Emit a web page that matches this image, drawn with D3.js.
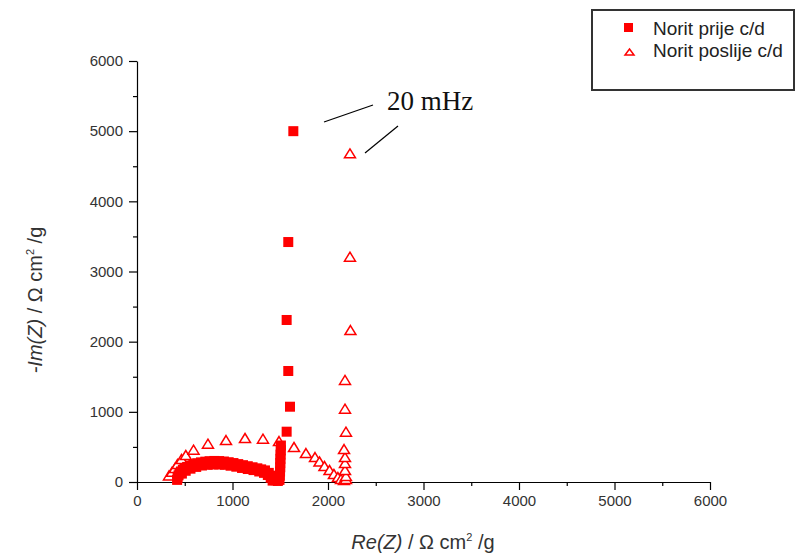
<!DOCTYPE html>
<html>
<head>
<meta charset="utf-8">
<script src="https://cdn.jsdelivr.net/npm/d3@7"></script>
<style>
  html, body { margin: 0; padding: 0; background: #fff; }
  svg { display: block; }
</style>
</head>
<body>
<svg id="chart" width="797" height="559" font-family="'Liberation Sans', Arial, sans-serif"></svg>
<script>
// Nyquist data: Re(Z), -Im(Z) in Ω cm²/g
const seriesNames = ["Norit prije c/d", "Norit poslije c/d"];

const prijeRe = [420, 425, 435, 445, 460, 480, 500, 525, 555, 590, 630, 670, 715, 760, 810, 860,
  910, 960, 1010, 1060, 1110, 1160, 1210, 1260, 1300, 1340, 1380, 1410, 1430, 1450, 1475,
  470, 510, 560, 620, 680, 740, 800, 860, 920, 980, 1040, 1100, 1160, 1220, 1280, 1330, 1370, 1400, 1420,
  1492, 1496, 1498, 1500, 1500, 1502, 1503, 1505, 1507,
  1567, 1602, 1584, 1567, 1584, 1637];
const prijeIm = [30, 60, 95, 125, 150, 175, 195, 215, 235, 252, 268, 280, 290, 296, 300, 298,
  292, 282, 270, 255, 240, 225, 210, 195, 180, 165, 130, 90, 50, 25, 15,
  120, 160, 190, 215, 235, 245, 250, 250, 245, 232, 218, 200, 185, 170, 150, 130, 100, 60, 20,
  30, 90, 150, 210, 270, 330, 390, 450, 520,
  717, 1073, 1582, 2309, 3420, 5000];

const poslijeRe = [335, 366, 398, 424, 466, 511, 592, 743, 932, 1131, 1319, 1487, 1644, 1769, 1864,
  1911, 1963, 2016, 2062, 2104, 2136, 2167, 2188, 2188, 2178, 2178, 2178, 2168, 2188, 2178, 2178,
  2235, 2230, 2230];
const poslijeIm = [93, 145, 200, 256, 328, 385, 460, 546, 598, 627, 617, 584, 499, 413, 356,
  292, 228, 171, 114, 71, 43, 28, 43, 85, 171, 270, 356, 470, 717, 1045, 1454,
  2166, 3211, 4684];

const xTicks = [0, 1000, 2000, 3000, 4000, 5000, 6000];
const yTicks = [0, 1000, 2000, 3000, 4000, 5000, 6000];
const minorTicks = [500, 1500, 2500, 3500, 4500, 5500];
const annotationText = "20 mHz";

const red = "#ff0000";
const svg = d3.select("#chart");

const x = d3.scaleLinear().domain([0, 6000]).range([137, 710]);
const y = d3.scaleLinear().domain([0, 6000]).range([482, 61]);

// axes
function styleAxis(g) {
  g.select(".domain").attr("stroke", "#000").attr("stroke-width", 1.2);
  g.selectAll(".tick line").attr("stroke", "#000").attr("stroke-width", 1.2);
  g.selectAll(".tick text").attr("fill", "#333").attr("font-size", 15)
    .attr("font-family", "'Liberation Sans', Arial, sans-serif");
}

svg.append("g").attr("transform", `translate(0,${y(0)})`)
  .call(d3.axisBottom(x).tickValues(minorTicks).tickSize(4).tickFormat("").tickSizeOuter(0))
  .call(g => { g.select(".domain").remove(); g.selectAll("line").attr("stroke", "#000").attr("stroke-width", 1.2); });
svg.append("g").attr("transform", `translate(${x(0)},0)`)
  .call(d3.axisLeft(y).tickValues(minorTicks).tickSize(4).tickFormat("").tickSizeOuter(0))
  .call(g => { g.select(".domain").remove(); g.selectAll("line").attr("stroke", "#000").attr("stroke-width", 1.2); });

svg.append("g").attr("transform", `translate(0,${y(0)})`)
  .call(d3.axisBottom(x).tickValues(xTicks).tickSize(8).tickSizeOuter(0).tickPadding(5).tickFormat(d3.format("d")))
  .call(styleAxis);
svg.append("g").attr("transform", `translate(${x(0)},0)`)
  .call(d3.axisLeft(y).tickValues(yTicks).tickSize(8).tickSizeOuter(0).tickPadding(6).tickFormat(d3.format("d")))
  .call(styleAxis);

// axis titles
const xt = svg.append("text").attr("x", 423).attr("y", 549).attr("text-anchor", "middle")
  .attr("font-size", 20).attr("fill", "#333");
xt.append("tspan").attr("font-style", "italic").text("Re(Z)");
xt.append("tspan").text(" / Ω cm");
xt.append("tspan").attr("font-size", 11).attr("dy", -8).text("2");
xt.append("tspan").attr("dy", 8).text(" /g");

const yt = svg.append("text").attr("transform", "translate(42,300) rotate(-90)")
  .attr("text-anchor", "middle").attr("font-size", 20).attr("fill", "#333");
yt.append("tspan").attr("font-style", "italic").text("-Im(Z)");
yt.append("tspan").text(" / Ω cm");
yt.append("tspan").attr("font-size", 11).attr("dy", -8).text("2");
yt.append("tspan").attr("dy", 8).text(" /g");

// markers
const sq = 10;
const prije = prijeRe.map((r, i) => ({ re: r, im: prijeIm[i] }));
const poslije = poslijeRe.map((r, i) => ({ re: r, im: poslijeIm[i] }));

const triPath = (w, h) => `M0,${-h / 2}L${w / 2},${h / 2}L${-w / 2},${h / 2}Z`;

svg.append("g").selectAll("path").data(poslije).join("path")
  .attr("d", triPath(11, 9))
  .attr("transform", d => `translate(${x(d.re)},${y(d.im)})`)
  .attr("fill", "#fff").attr("stroke", red).attr("stroke-width", 1.5);

svg.append("g").selectAll("rect").data(prije).join("rect")
  .attr("x", d => x(d.re) - sq / 2).attr("y", d => y(d.im) - sq / 2)
  .attr("width", sq).attr("height", sq).attr("fill", red);

// frequency annotation
svg.append("line").attr("x1", 324).attr("y1", 122).attr("x2", 373).attr("y2", 105)
  .attr("stroke", "#000").attr("stroke-width", 1.2);
svg.append("line").attr("x1", 365).attr("y1", 153).attr("x2", 398).attr("y2", 126)
  .attr("stroke", "#000").attr("stroke-width", 1.2);
svg.append("text").attr("x", 387).attr("y", 110).attr("font-size", 27)
  .attr("font-family", "'Liberation Serif', 'Times New Roman', serif")
  .attr("fill", "#111").text(annotationText);

// legend
const lg = svg.append("g");
lg.append("rect").attr("x", 592).attr("y", 10).attr("width", 202).attr("height", 80)
  .attr("fill", "#fff").attr("stroke", "#333").attr("stroke-width", 2);
lg.append("rect").attr("x", 624).attr("y", 23).attr("width", 9).attr("height", 9).attr("fill", red);
lg.append("path").attr("d", triPath(9, 6)).attr("transform", "translate(629.5,52)")
  .attr("fill", "#fff").attr("stroke", red).attr("stroke-width", 1.5);
lg.append("text").attr("x", 653).attr("y", 35).attr("font-size", 19).attr("fill", "#222").text(seriesNames[0]);
lg.append("text").attr("x", 653).attr("y", 57).attr("font-size", 19).attr("fill", "#222").text(seriesNames[1]);
</script>
</body>
</html>
